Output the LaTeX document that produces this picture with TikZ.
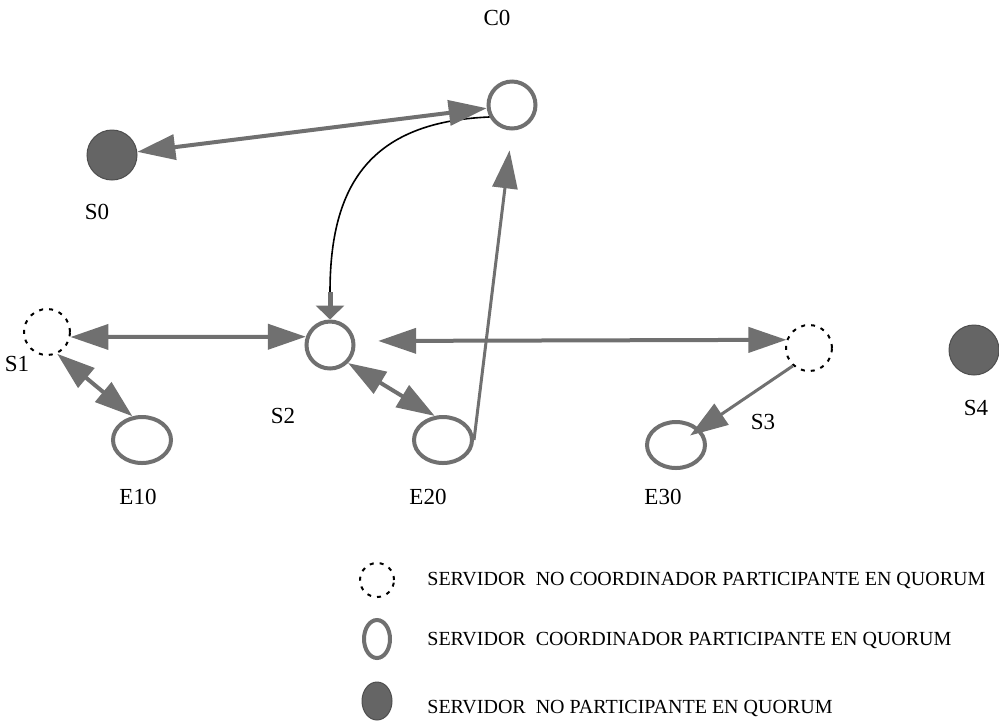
\documentclass[tikz,border=0pt]{standalone}
\usepackage{fontspec}
\setmainfont{Liberation Serif}
\usetikzlibrary{arrows.meta,shapes.geometric}
\definecolor{gris}{RGB}{112,112,112}

\begin{document}
\begin{tikzpicture}[x=0.5pt,y=-0.5pt,
  coord/.style={circle,draw=gris,line width=2pt,fill=white,minimum size=23.5pt,inner sep=0pt},
  nocoord/.style={circle,draw=black,line width=1pt,dash pattern=on 2pt off 3pt,minimum size=23pt,inner sep=0pt},
  caido/.style={circle,draw=gris!70!black,line width=0.5pt,fill=gris!90!black,minimum size=25pt,inner sep=0pt},
  estac/.style={ellipse,draw=gris,line width=2pt,fill=white,minimum width=29pt,minimum height=23pt,inner sep=0pt},
  etiq/.style={font=\fontsize{11.5}{13}\selectfont},
  leyenda/.style={font=\fontsize{10}{12}\selectfont,anchor=west,inner sep=0pt},
  doble/.style={color=gris,line width=2pt,{Triangle[length=19pt,width=12.5pt]}-{Triangle[length=19pt,width=12.5pt]}},
  simple/.style={color=gris,line width=1.5pt,-{Triangle[length=19pt,width=12.5pt]}}]
  \useasboundingbox (0,0) rectangle (999,725);
  \node[coord] (c0) at (512,105) {};
  \node[caido] (s0) at (112,155) {};
  \node[nocoord] (s1) at (47,332) {};
  \node[coord] (s2) at (330,345) {};
  \node[nocoord] (s3) at (809,348) {};
  \node[caido] (s4) at (974,350) {};
  \node[estac] (e10) at (142,440) {};
  \node[estac] (e20) at (443,440) {};
  \node[estac] (e30) at (676,445) {};
  \node[etiq] (lc0) at (497,18) {C0};
  \node[etiq] (ls0) at (97,212) {S0};
  \node[etiq] (ls1) at (17,364) {S1};
  \node[etiq] (ls2) at (283,416) {S2};
  \node[etiq] (ls3) at (763,422) {S3};
  \node[etiq] (ls4) at (976,408) {S4};
  \node[etiq] (le10) at (138,497) {E10};
  \node[etiq] (le20) at (428,497) {E20};
  \node[etiq] (le30) at (663,497) {E30};
  \coordinate (codo) at (330,292);
  \draw[black,line width=0.8pt] (c0.208) .. controls (370,122) and (330,185) .. (codo);
  \draw[gris,line width=2.5pt,-{Triangle[length=7pt,width=14pt]}] (codo) -- (s2.north);
  \path[doble] (s0) edge (c0)
    (s1.-12) edge (s2.161)
    (s1.-65) edge (e10.112)
    (s2.-45) edge (e20.109)
    (s2.9) edge[shorten <=11.5pt] (s3.160);
  \path[simple] (e20.east) edge[shorten >=10pt] (c0.south)
    (s3.228) edge[shorten >=8.5pt] (e30.center);
  \node[nocoord,minimum size=17pt] (l1) at (377,580) {};
  \node[estac,minimum width=13pt,minimum height=19pt] (l2) at (377,639) {};
  \node[caido,ellipse,minimum width=15pt,minimum height=19pt] (l3) at (377,701) {};
  \node[leyenda] (t1) at (427,580) {SERVIDOR\ \ NO COORDINADOR PARTICIPANTE EN QUORUM};
  \node[leyenda] (t2) at (427,640) {SERVIDOR\ \ COORDINADOR PARTICIPANTE EN QUORUM};
  \node[leyenda] (t3) at (427,708) {SERVIDOR\ \ NO PARTICIPANTE EN QUORUM};
\end{tikzpicture}
\end{document}
